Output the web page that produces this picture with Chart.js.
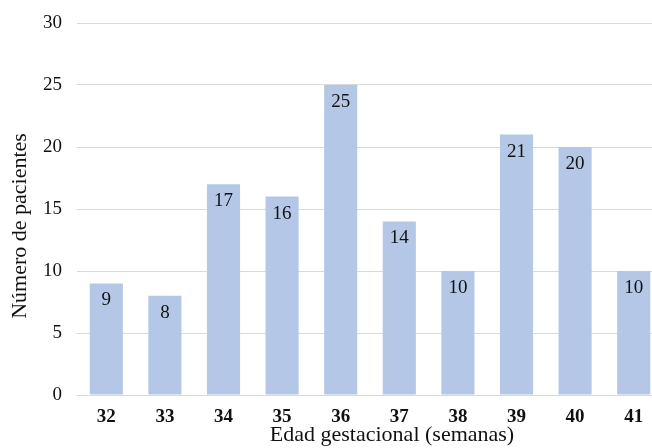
<!DOCTYPE html>
<html>
<head>
<meta charset="utf-8">
<script src="https://cdn.jsdelivr.net/npm/chart.js@4/dist/chart.umd.min.js"></script>
<style>
  html, body { margin: 0; padding: 0; background: #fff; overflow: hidden; }
  #wrap { width: 664px; height: 448px; }
</style>
</head>
<body>
<div id="wrap"><canvas id="c" width="664" height="448"></canvas></div>
<script>
// Weeks of gestation and patient counts
const semanas = ['32', '33', '34', '35', '36', '37', '38', '39', '40', '41'];
const pacientes = [9, 8, 17, 16, 25, 14, 10, 21, 20, 10];
const yTicks = [0, 5, 10, 15, 20, 25, 30];
const tituloX = 'Edad gestacional (semanas)';
const tituloY = 'Número de pacientes';

const serif = '"Liberation Serif", "Times New Roman", serif';

// Draws each bar's value just inside its top, plus the two axis titles
const annotations = {
  id: 'annotations',
  afterDatasetsDraw(chart) {
    const ctx = chart.ctx;
    const meta = chart.getDatasetMeta(0);
    ctx.save();
    ctx.font = '19px ' + serif;
    ctx.fillStyle = '#111';
    ctx.textAlign = 'center';
    ctx.textBaseline = 'middle';
    meta.data.forEach((bar, i) => {
      ctx.fillText(String(pacientes[i]), bar.x, bar.y + 17);
    });

    ctx.font = '22px ' + serif;
    ctx.textBaseline = 'alphabetic';
    ctx.fillText(tituloX, 392, 441);

    ctx.translate(26, 226);
    ctx.rotate(-Math.PI / 2);
    ctx.fillText(tituloY, 0, 0);
    ctx.restore();
  }
};

new Chart(document.getElementById('c'), {
  type: 'bar',
  data: {
    labels: semanas,
    datasets: [{
      data: pacientes,
      backgroundColor: '#b4c7e7',
      borderWidth: 0,
      categoryPercentage: 1,
      barPercentage: 0.565
    }]
  },
  options: {
    responsive: false,
    animation: false,
    devicePixelRatio: 1,
    layout: { padding: { left: 0, right: 1, top: 23, bottom: 0 } },
    plugins: { legend: { display: false }, tooltip: { enabled: false } },
    scales: {
      x: {
        grid: { display: false },
        border: { color: '#d9d9d9', width: 1 },
        ticks: { color: '#111', font: { family: serif, size: 19, weight: 'bold' }, padding: 3 },
        afterFit(s) { s.height = 53; s.paddingLeft = 0; s.paddingRight = 0; }
      },
      y: {
        min: 0, max: 30,
        afterBuildTicks(s) { s.ticks = yTicks.map(v => ({ value: v })); },
        grid: { color: '#d9d9d9', lineWidth: 1, drawTicks: false },
        border: { display: false },
        ticks: { color: '#111', font: { family: serif, size: 19 }, padding: 15 },
        afterFit(s) { s.width = 77; s.paddingTop = 0; s.paddingBottom = 0; }
      }
    }
  },
  plugins: [annotations]
});
</script>
</body>
</html>
